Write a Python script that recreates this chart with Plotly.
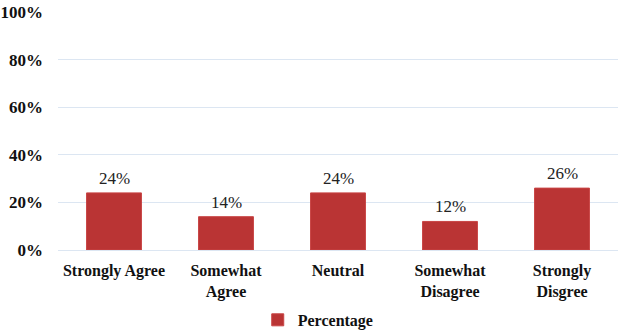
import plotly.graph_objects as go

categories = ["Strongly Agree", "Somewhat<br>Agree", "Neutral", "Somewhat<br>Disagree", "Strongly<br>Disgree"]
values = [24, 14, 24, 12, 26]
labels = ["24%", "14%", "24%", "12%", "26%"]
tick_vals = [0, 20, 40, 60, 80, 100]
tick_text = ["0%", "20%", "40%", "60%", "80%", "100%"]

SERIF = "'Times New Roman', 'Liberation Serif', 'DejaVu Serif', serif"

fig = go.Figure()
fig.add_trace(go.Bar(
    x=categories, y=values, name="Percentage",
    marker=dict(color="#BA3434", line=dict(color="#C84444", width=1)),
    width=0.49,
))
for c, v, t in zip(categories, values, labels):
    fig.add_annotation(x=c, y=v, text=t, showarrow=False, yanchor="bottom", yshift=3,
                       font=dict(family=SERIF, size=17, color="#222222"))
fig.update_layout(
    width=624, height=335,
    margin=dict(l=58, r=6, t=12, b=85, autoexpand=False),
    plot_bgcolor="white", paper_bgcolor="white",
    font=dict(family=SERIF, size=16, color="#111111"),
    showlegend=True,
    legend=dict(orientation="h", xref="container", x=0.51, xanchor="center",
                yref="container", y=0.045, yanchor="middle",
                font=dict(family=SERIF, size=16, color="#111111", weight="bold"),
                itemwidth=30),
    bargap=0.51,
)
fig.update_yaxes(range=[0, 100], tickvals=tick_vals, ticktext=tick_text,
                 showgrid=True, gridcolor="#DCE6F2", gridwidth=1,
                 zeroline=False, showline=False, automargin=False,
                 tickfont=dict(family=SERIF, size=17, color="#111111", weight="bold"),
                 ticks="", ticklabelstandoff=14)
fig.update_xaxes(showline=True, linecolor="#DCE6F2", ticks="", automargin=False,
                 ticklabelstandoff=6,
                 tickfont=dict(family=SERIF, size=16, color="#111111", weight="bold"))
fig.write_html("out.html")
